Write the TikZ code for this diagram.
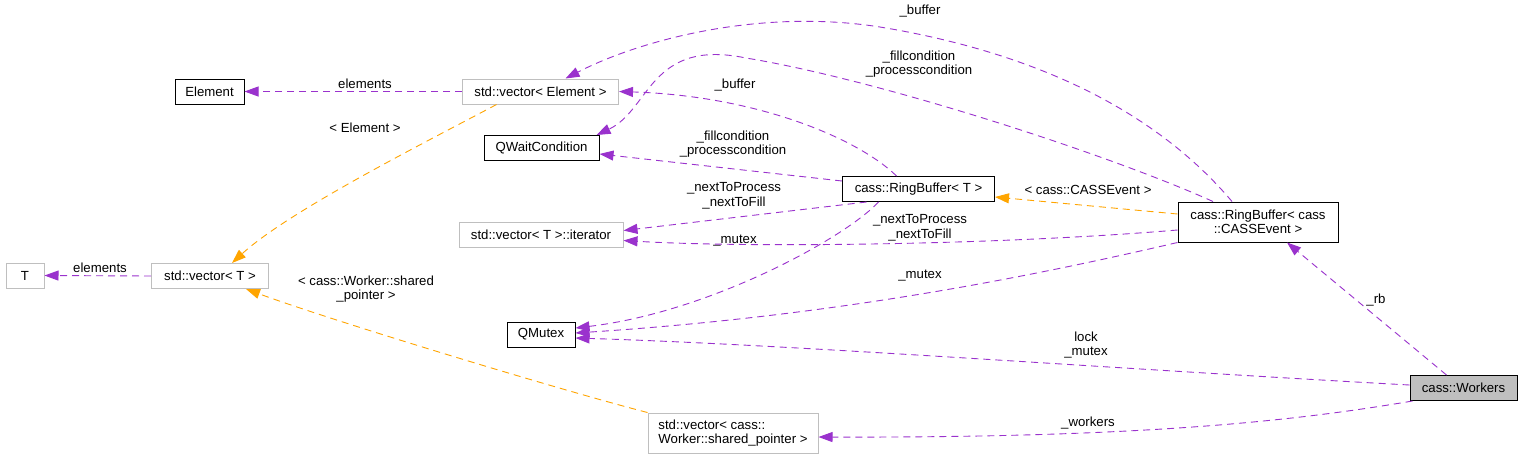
\documentclass[tikz,border=0pt]{standalone}
\usepackage{fontspec}
\setmainfont{Liberation Sans}
\usetikzlibrary{arrows.meta}
\definecolor{edgepurple}{HTML}{9A32CD}
\definecolor{edgeorange}{HTML}{FFA500}
\definecolor{boxgray}{HTML}{BFBFBF}
\begin{document}
\begin{tikzpicture}[x=1pt,y=-1pt,
  font=\fontsize{13.2}{14.5}\selectfont,
  cls/.style={draw=black, line width=1pt, minimum height=25pt, inner sep=0pt, fill=white},
  ucls/.style={draw=boxgray, line width=1pt, minimum height=25pt, inner sep=0pt, fill=white},
  lbl/.style={inner sep=0pt, align=center},
  rel/.style={draw=edgepurple, line width=0.9pt, dash pattern=on 7pt off 5pt, -{Triangle[length=14pt,width=10pt]}},
  tmpl/.style={draw=edgeorange, line width=0.9pt, dash pattern=on 7pt off 5pt, -{Triangle[length=14pt,width=10pt]}}
]
\useasboundingbox (0,0) rectangle (1523,459);
\fill[white] (0,0) rectangle (1523,459);

% nodes
\node[cls, minimum width=69pt] (elem) at (209.5,91.5) {Element};
\node[ucls, minimum width=156pt] (vecE) at (540.5,91.5) {std::vector< Element >};
\node[cls, minimum width=115pt] (qwc) at (541.5,148) {QWaitCondition};
\node[ucls, minimum width=164pt] (iter) at (541,234.5) {std::vector< T >::iterator};
\node[ucls, minimum width=38pt] (T) at (25,275.5) {T};
\node[ucls, minimum width=117pt] (vecT) at (210,276) {std::vector< T >};
\node[cls, minimum width=68pt] (qmutex) at (541,334.5) {QMutex};
\node[ucls, minimum width=170pt, minimum height=40pt, align=left] (vecW) at (733,433) {std::vector< cass::\\Worker::shared\_pointer >};
\node[cls, minimum width=152pt] (rbT) at (918.5,189) {cass::RingBuffer< T >};
\node[cls, minimum width=160pt, minimum height=40pt, align=center] (rbC) at (1258,222) {cass::RingBuffer< cass\\::CASSEvent >};
\node[cls, minimum width=107pt, fill=boxgray] (workers) at (1463.5,388) {cass::Workers};

% labels
\node[lbl] (l1) at (365,84) {elements};
\node[lbl] (l2) at (100,268) {elements};
\node[lbl] (l3) at (365,128) {< Element >};
\node[lbl] (l4) at (366,289) {< cass::Worker::shared\\\_pointer >};
\node[lbl] (l5) at (1088,190) {< cass::CASSEvent >};
\node[lbl] (l6) at (735,85) {\_buffer};
\node[lbl] (l7) at (733,144) {\_fillcondition\\\_processcondition};
\node[lbl] (l8) at (734,196) {\_nextToProcess\\\_nextToFill};
\node[lbl] (l9) at (735,241) {\_mutex};
\node[lbl] (l10) at (920,11) {\_buffer};
\node[lbl] (l11) at (919,64) {\_fillcondition\\\_processcondition};
\node[lbl] (l12) at (920,228) {\_nextToProcess\\\_nextToFill};
\node[lbl] (l13) at (920,276) {\_mutex};
\node[lbl] (l14) at (1086,345) {lock\\\_mutex};
\node[lbl] (l15) at (1088,423) {\_workers};
\node[lbl] (l16) at (1376,300) {\_rb};

% edges
\draw[rel] (vecE.west) -- (elem.east);
\draw[rel] (vecT.west) -- (T.east);
\draw[tmpl] ([xshift=-44pt]vecE.south) .. controls (430,140) and (290,210) .. ([xshift=22pt]vecT.north);
\draw[tmpl] (vecW.north west) .. controls (560,390) and (330,320) .. ([xshift=36pt]vecT.south);
\draw[tmpl] ([yshift=8pt]rbC.west) -- ([yshift=-8pt]rbT.east);
\draw[rel] ([xshift=-22pt]rbT.north) .. controls (860,140) and (760,96) .. (vecE.east);
\draw[rel] ([yshift=8pt]rbT.west) -- ([yshift=-6pt]qwc.east);
\draw[rel] ([xshift=-52pt]rbT.south) -- ([yshift=4pt]iter.east);
\draw[rel] ([xshift=-40pt]rbT.south) .. controls (845,238) and (710,312) .. ([yshift=6.5pt]qmutex.east);
\coordinate (c10) at (880,27);
\draw[rel] ([xshift=-26pt]rbC.north) .. controls (1180,140) and (1080,60) .. (c10) .. controls (760,8) and (640,40) .. ([xshift=25pt]vecE.north);
\coordinate (c11) at (746,58);
\draw[rel] ([xshift=-45pt]rbC.north) .. controls (1110,155) and (880,80) .. (c11) .. controls (650,38) and (650,110) .. ([xshift=-3pt]qwc.north east);
\draw[rel] ([yshift=-8pt]rbC.west) .. controls (1000,245) and (750,248) .. ([yshift=-6pt]iter.east);
\draw[rel] (rbC.south west) .. controls (1050,272) and (850,315) .. ([yshift=1.5pt]qmutex.east);
\draw[rel] ([yshift=3pt]workers.west) .. controls (1100,368) and (800,345) .. ([yshift=-3.5pt]qmutex.east);
\draw[rel] ([xshift=3pt]workers.south west) .. controls (1300,420) and (1150,438) .. ([yshift=-4pt]vecW.east);
\draw[rel] ([xshift=-17pt]workers.north) -- ([xshift=29pt]rbC.south);
\end{tikzpicture}
\end{document}
